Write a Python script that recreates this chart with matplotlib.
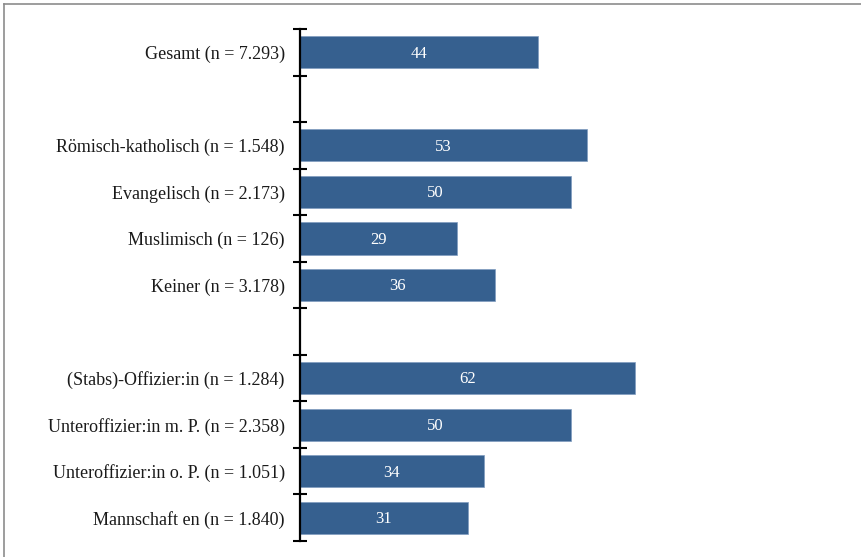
import matplotlib
matplotlib.use("Agg")
import matplotlib.pyplot as plt
from matplotlib.lines import Line2D

categories = [
    "Gesamt (n = 7.293)",
    "",
    "Römisch-katholisch (n = 1.548)",
    "Evangelisch (n = 2.173)",
    "Muslimisch (n = 126)",
    "Keiner (n = 3.178)",
    "",
    "(Stabs)-Offizier:in (n = 1.284)",
    "Unteroffizier:in m. P. (n = 2.358)",
    "Unteroffizier:in o. P. (n = 1.051)",
    "Mannschaft en (n = 1.840)",
]
values = [44, None, 53, 50, 29, 36, None, 62, 50, 34, 31]

plt.rcParams['font.family'] = ['Liberation Serif', 'DejaVu Serif']

fig = plt.figure(figsize=(8.61, 5.57), dpi=100)
ax = fig.add_axes([300/861, 16/557, 541/861, 512/557])

bar_color = "#36608f"
pos = list(range(len(categories)))
for p, v in zip(pos, values):
    if v is None:
        continue
    ax.barh(p, v, height=0.69, color=bar_color, edgecolor="#7f9cc0", linewidth=0.5)
    ax.text(v / 2, p + 0.03, f"{v}", ha="center", va="center", color="white", fontsize=12)

ax.set_xlim(0, 100)
ax.set_ylim(len(categories) - 0.5, -0.5)
ax.set_yticks(pos)
ax.set_yticklabels(categories, fontsize=13, color="#1a1a1a")
ax.set_yticks([i - 0.5 for i in range(len(categories) + 1)], minor=True)
ax.tick_params(axis="y", which="major", length=0, pad=11)
ax.tick_params(axis="y", which="minor", length=10, width=1.5, direction="inout", color="black")
ax.set_xticks([])
for s in ["top", "right", "bottom"]:
    ax.spines[s].set_visible(False)
ax.spines["left"].set_linewidth(1.6)
ax.spines["left"].set_color("black")

# figure frame (top and left edges visible in the cropped reference)
fig.add_artist(Line2D([3.5/861, 3.5/861], [0, 1 - 3.5/557], transform=fig.transFigure, color="#8c8c8c", linewidth=1.2))
fig.add_artist(Line2D([3.5/861, 1], [1 - 3.5/557, 1 - 3.5/557], transform=fig.transFigure, color="#8c8c8c", linewidth=1.2))

fig.savefig("out.png", dpi=100)
